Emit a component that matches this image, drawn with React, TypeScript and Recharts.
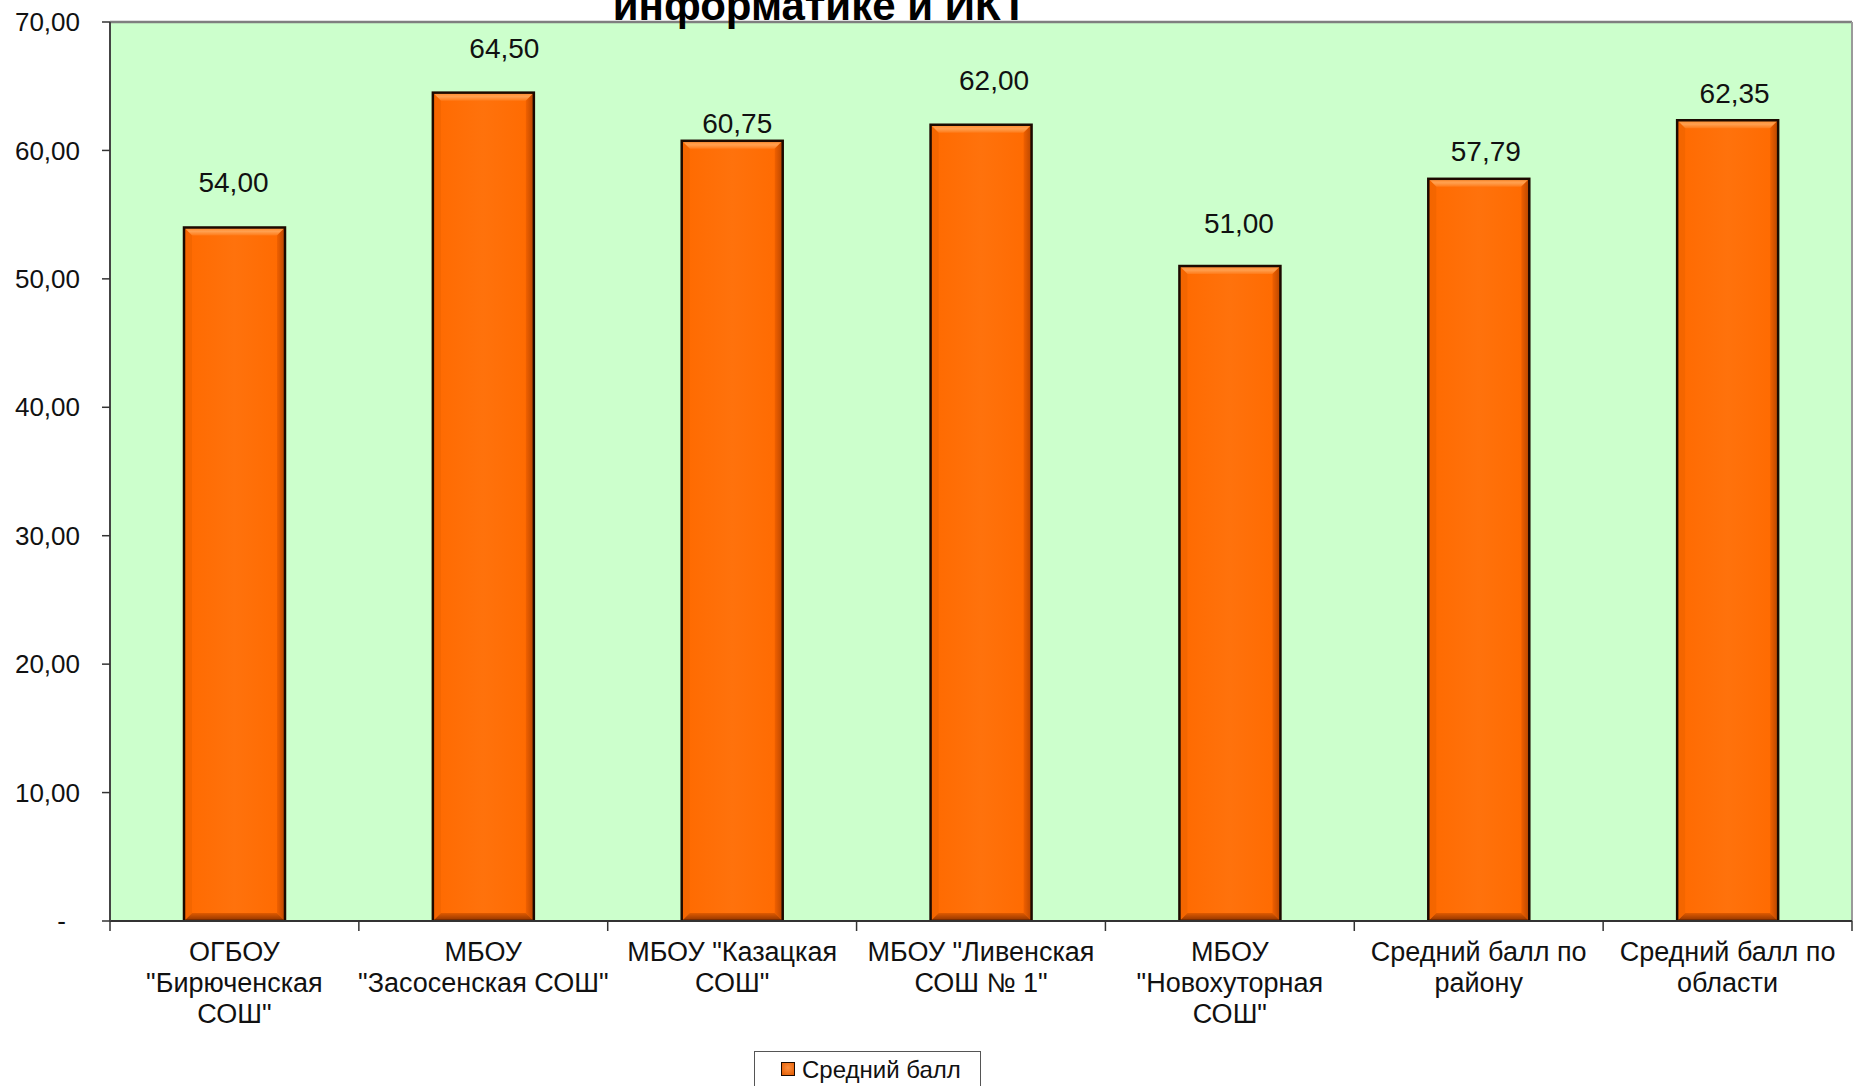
import React from 'react';
import { BarChart, Bar, XAxis, YAxis, CartesianGrid, LabelList } from 'recharts';

const categories = [
  'ОГБОУ\n"Бирюченская\nСОШ"',
  'МБОУ\n"Засосенская СОШ"',
  'МБОУ "Казацкая\nСОШ"',
  'МБОУ "Ливенская\nСОШ № 1"',
  'МБОУ\n"Новохуторная\nСОШ"',
  'Средний балл по\nрайону',
  'Средний балл по\nобласти',
];
const scores = [54.0, 64.5, 60.75, 62.0, 51.0, 57.79, 62.35];
const yTicks = [0, 10, 20, 30, 40, 50, 60, 70];
const seriesName = 'Средний балл';
const titleLine = 'информатике  и ИКТ';

// hand-moved data labels in the original (px nudges)
const labelDx = [-1, 21, 5, 13, 9, 7, 7];
const labelDy = [0, 0, 27, 0, 2, 17, 18];

const data = categories.map((name, i) => ({ name, value: scores[i] }));

// layout
const W = 1854;
const H = 1086;
const PLOT_LEFT = 110;
const PLOT_TOP = 22;
const PLOT_RIGHT = 1852;
const AXIS_Y = 921;
const BAND = (PLOT_RIGHT - PLOT_LEFT) / categories.length;
const FONT = '"Liberation Sans", Arial, sans-serif';

const fmt = (v: number) => v.toFixed(2).replace('.', ',');

const YTick = ({ x, y, payload }: any) => {
  const v = payload.value as number;
  if (v === 0) {
    return (
      <text x={x - 14} y={y} dy="0.35em" textAnchor="end" fontSize={26} fill="#111" fontFamily={FONT}>-</text>
    );
  }
  return (
    <text x={x} y={y} dy="0.35em" textAnchor="end" fontSize={26} fill="#111" fontFamily={FONT}>
      {fmt(v)}
    </text>
  );
};

const XTick = ({ x, payload, index }: any) => {
  const lines = String(payload.value).split('\n');
  return (
    <g>
      <line x1={x - BAND / 2} x2={x - BAND / 2} y1={AXIS_Y} y2={AXIS_Y + 10} stroke="#333" strokeWidth={1.5} />
      {index === categories.length - 1 && (
        <line x1={x + BAND / 2} x2={x + BAND / 2} y1={AXIS_Y} y2={AXIS_Y + 10} stroke="#333" strokeWidth={1.5} />
      )}
      {lines.map((l, i) => (
        <text key={i} x={x} y={AXIS_Y + 31 + i * 31} dy="0.35em" textAnchor="middle" fontSize={27} fill="#111" fontFamily={FONT}>
          {l}
        </text>
      ))}
    </g>
  );
};

const BevelBar = (props: any) => {
  const { x, y, width: w, height: h } = props;
  if (!h || h <= 0) return null;
  const b = 8;
  return (
    <g>
      <rect x={x} y={y} width={w} height={h} fill="url(#barBody)" />
      <polygon points={`${x},${y} ${x + w},${y} ${x + w - b},${y + b} ${x + b},${y + b}`} fill="url(#barTop)" />
      <polygon points={`${x + w},${y} ${x + w},${y + h} ${x + w - b},${y + h - b} ${x + w - b},${y + b}`} fill="url(#barRight)" />
      <polygon points={`${x},${y + h} ${x + w},${y + h} ${x + w - b},${y + h - b} ${x + b},${y + h - b}`} fill="url(#barBottom)" />
      <polygon points={`${x},${y} ${x + b},${y + b} ${x + b},${y + h - b} ${x},${y + h}`} fill="#F06400" opacity={0.7} />
      <rect x={x} y={y} width={w} height={h} fill="none" stroke="#1c0a00" strokeWidth={2.5} />
    </g>
  );
};

const ValueLabel = ({ x, y, width, value, index }: any) => (
  <text
    x={x + width / 2 + (labelDx[index] || 0)}
    y={y - 35 + (labelDy[index] || 0)}
    textAnchor="middle"
    fontSize={28}
    fill="#111"
    fontFamily={FONT}
  >
    {fmt(Number(value))}
  </text>
);

export default function App() {
  return (
    <div style={{ position: 'absolute', left: 0, top: 0, width: W, height: H, overflow: 'hidden', background: '#fff', fontFamily: FONT }}>
      <BarChart
        width={W}
        height={H}
        data={data}
        margin={{ top: PLOT_TOP, right: W - PLOT_RIGHT, left: 0, bottom: 0 }}
        barSize={101}
      >
        <defs>
          <linearGradient id="barBody" x1="0" y1="0" x2="1" y2="0">
            <stop offset="0" stopColor="#FF6A00" />
            <stop offset="0.5" stopColor="#FF720C" />
            <stop offset="1" stopColor="#FF6A00" />
          </linearGradient>
          <linearGradient id="barTop" x1="0" y1="0" x2="0" y2="1">
            <stop offset="0" stopColor="#FF8A2A" />
            <stop offset="0.5" stopColor="#FFA050" />
            <stop offset="1" stopColor="#FF7A18" />
          </linearGradient>
          <linearGradient id="barRight" x1="0" y1="0" x2="1" y2="0">
            <stop offset="0" stopColor="#F06000" />
            <stop offset="1" stopColor="#B84600" />
          </linearGradient>
          <linearGradient id="barBottom" x1="0" y1="0" x2="0" y2="1">
            <stop offset="0" stopColor="#E05A00" />
            <stop offset="1" stopColor="#8A3200" />
          </linearGradient>
        </defs>
        <CartesianGrid fill="#CCFFCC" horizontal={false} vertical={false} />
        <XAxis
          dataKey="name"
          height={H - AXIS_Y}
          interval={0}
          tickLine={false}
          tick={<XTick />}
          axisLine={{ stroke: '#333', strokeWidth: 2 }}
        />
        <YAxis
          width={PLOT_LEFT}
          domain={[0, 70]}
          ticks={yTicks}
          tickSize={8}
          tickMargin={22}
          tick={<YTick />}
          axisLine={{ stroke: '#444', strokeWidth: 2 }}
          tickLine={{ stroke: '#333', strokeWidth: 1.5 }}
          allowDataOverflow
        />
        <line x1={PLOT_LEFT} x2={PLOT_RIGHT} y1={PLOT_TOP} y2={PLOT_TOP} stroke="#7f7f7f" strokeWidth={2.5} />
        <line x1={PLOT_RIGHT} x2={PLOT_RIGHT} y1={PLOT_TOP} y2={AXIS_Y} stroke="#9a9a9a" strokeWidth={2} />
        <Bar dataKey="value" name={seriesName} shape={<BevelBar />} isAnimationActive={false}>
          <LabelList dataKey="value" content={<ValueLabel />} />
        </Bar>
        <text x={820} y={20} textAnchor="middle" fontSize={42} fontWeight="bold" fill="#000" fontFamily={FONT}>
          {titleLine}
        </text>
      </BarChart>
      <div
        style={{
          position: 'absolute',
          left: 754,
          top: 1051,
          width: 227,
          height: 50,
          boxSizing: 'border-box',
          border: '1.5px solid #555',
          background: '#fff',
          display: 'flex',
          alignItems: 'flex-start',
          paddingTop: 4,
          paddingLeft: 26,
          fontSize: 24,
          color: '#111',
        }}
      >
        <span
          style={{
            display: 'inline-block',
            width: 12,
            height: 12,
            marginTop: 6,
            marginRight: 7,
            border: '1.5px solid #1c0a00',
            background: 'radial-gradient(circle at 50% 40%, #FF9040, #E05A00)',
          }}
        />
        <span>{seriesName}</span>
      </div>
    </div>
  );
}
